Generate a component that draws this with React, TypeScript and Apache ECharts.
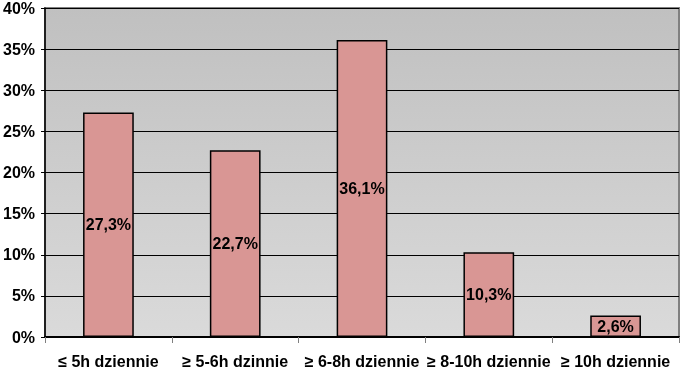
import React, { useEffect, useRef } from "react";
import * as echarts from "echarts";

const categories = ["≤ 5h dziennie", "≥ 5-6h dzinnie", "≥ 6-8h dziennie", "≥ 8-10h dziennie", "≥ 10h dziennie"];
const values = [27.3, 22.7, 36.1, 10.3, 2.6];
const yTicks = { min: 0, max: 40, interval: 5 };

const FONT = "'Liberation Sans Narrow', 'Arial Narrow', 'Liberation Sans', sans-serif";

export default function App() {
  const ref = useRef<HTMLDivElement>(null);
  useEffect(() => {
    if (!ref.current) return;
    const chart = echarts.init(ref.current, null, { renderer: "svg" });
    chart.setOption({
      animation: false,
      grid: {
        left: 45,
        right: 2,
        top: 7,
        bottom: 37,
        show: true,
        borderColor: "#808080",
        borderWidth: 2,
        backgroundColor: new echarts.graphic.LinearGradient(0, 0, 0, 1, [
          { offset: 0, color: "#c0c0c0" },
          { offset: 1, color: "#dadada" },
        ]),
      },
      xAxis: {
        type: "category",
        data: categories,
        boundaryGap: true,
        axisLine: { lineStyle: { color: "#000", width: 2 } },
        axisTick: { show: true, length: 6, lineStyle: { color: "#808080", width: 1 } },
        axisLabel: {
          color: "#000",
          fontFamily: FONT,
          fontWeight: "bold",
          fontSize: 16,
          margin: 16,
          interval: 0,
        },
      },
      yAxis: {
        type: "value",
        min: yTicks.min,
        max: yTicks.max,
        interval: yTicks.interval,
        axisLine: { show: true, lineStyle: { color: "#000", width: 1.5 } },
        axisTick: { show: true, length: 4, lineStyle: { color: "#000" } },
        splitLine: { show: true, lineStyle: { color: "#000", width: 1 } },
        axisLabel: {
          color: "#000",
          fontFamily: FONT,
          fontWeight: "bold",
          fontSize: 16,
          margin: 10,
          formatter: (v: number) => v + "%",
        },
      },
      series: [
        {
          type: "bar",
          data: values,
          barWidth: "40%",
          itemStyle: { color: "#d99694", borderColor: "#000", borderWidth: 1.5 },
          label: {
            show: true,
            position: "inside",
            color: "#000",
            fontFamily: FONT,
            fontWeight: "bold",
            fontSize: 16,
            formatter: (p: any) => String(p.value).replace(".", ",") + "%",
          },
        },
      ],
    });
    return () => chart.dispose();
  }, []);
  return <div ref={ref} style={{ width: 681, height: 374, position: "fixed", left: 0, top: 0 }} />;
}
